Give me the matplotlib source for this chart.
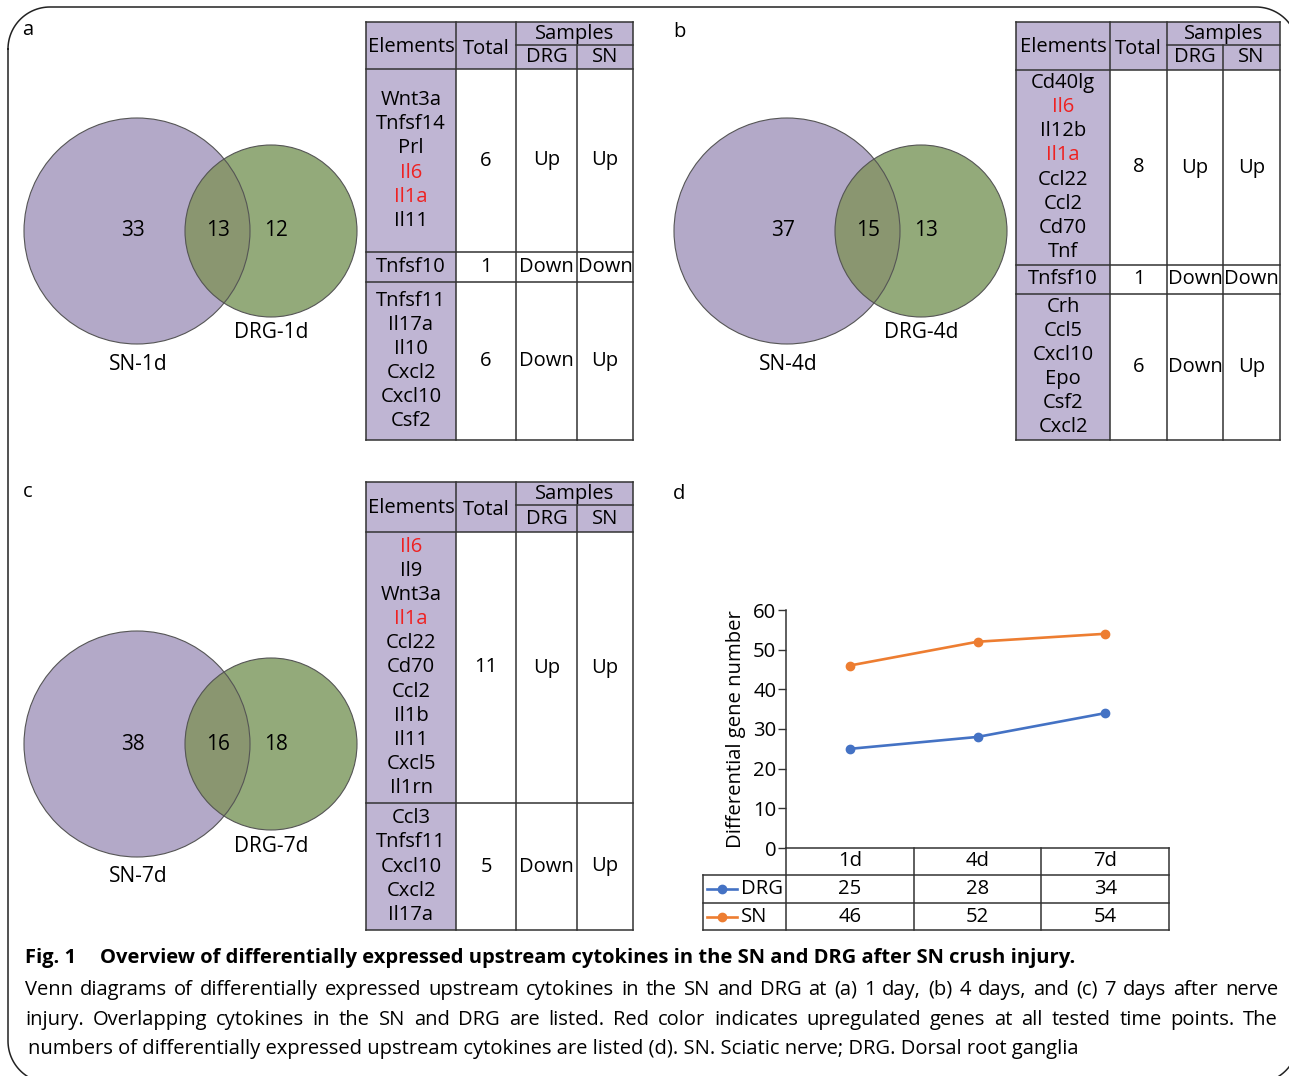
import numpy as np
import matplotlib.pyplot as plt
from matplotlib.patches import Circle, Rectangle
from matplotlib import transforms

plt.rcParams['font.family'] = ['Open Sans', 'DejaVu Sans']

W, H = 1289, 1076

# venn counts per time point
days = ['1d', '4d', '7d']
sn_only = [33, 37, 38]
shared = [13, 15, 16]
drg_only = [12, 13, 18]
sn_counts = [a + b for a, b in zip(sn_only, shared)]
drg_counts = [a + b for a, b in zip(drg_only, shared)]

red_genes = ['Il6', 'Il1a']

# overlapping cytokines: (genes, DRG, SN)
overlap_1d = [
    (['Wnt3a', 'Tnfsf14', 'Prl', 'Il6', 'Il1a', 'Il11'], 'Up', 'Up'),
    (['Tnfsf10'], 'Down', 'Down'),
    (['Tnfsf11', 'Il17a', 'Il10', 'Cxcl2', 'Cxcl10', 'Csf2'], 'Down', 'Up'),
]
overlap_4d = [
    (['Cd40lg', 'Il6', 'Il12b', 'Il1a', 'Ccl22', 'Ccl2', 'Cd70', 'Tnf'], 'Up', 'Up'),
    (['Tnfsf10'], 'Down', 'Down'),
    (['Crh', 'Ccl5', 'Cxcl10', 'Epo', 'Csf2', 'Cxcl2'], 'Down', 'Up'),
]
overlap_7d = [
    (['Il6', 'Il9', 'Wnt3a', 'Il1a', 'Ccl22', 'Cd70', 'Ccl2', 'Il1b', 'Il11',
      'Cxcl5', 'Il1rn'], 'Up', 'Up'),
    (['Ccl3', 'Tnfsf11', 'Cxcl10', 'Cxcl2', 'Il17a'], 'Down', 'Up'),
]

PURPLE = '#b3a9c8'
GREEN = '#93aa7a'
MIXED = '#8a9670'
LAVENDER = '#bfb5d3'
RED = '#ee2222'
BLUE = '#4472c4'
ORANGE = '#ed7d31'
LINE = '#333333'
FS = 14.5

fig = plt.figure(figsize=(W / 100, H / 100), dpi=100)
bg = fig.add_axes([0, 0, 1, 1])
bg.set_xlim(0, W)
bg.set_ylim(H, 0)
bg.axis('off')


def venn(cx, cy, i):
    big = Circle((cx, cy), 113, fc=PURPLE, ec='none')
    small = Circle((cx + 134, cy), 86, fc=GREEN, ec='none')
    both = Circle((cx + 134, cy), 86, fc=MIXED, ec='none')
    bg.add_patch(big)
    bg.add_patch(small)
    bg.add_patch(both)
    both.set_clip_path(big)
    for c in [(cx, cy, 113), (cx + 134, cy, 86)]:
        bg.add_patch(Circle(c[:2], c[2], fc='none', ec='#555555', lw=0.8))
    kw = dict(ha='center', va='center', fontsize=15)
    bg.text(cx - 4, cy, str(sn_only[i]), **kw)
    bg.text(cx + 81, cy, str(shared[i]), **kw)
    bg.text(cx + 139, cy, str(drg_only[i]), **kw)
    bg.text(cx + 1, cy + 133, 'SN-' + days[i], **kw)
    bg.text(cx + 134, cy + 102, 'DRG-' + days[i], **kw)


def hline(y, x0, x1):
    bg.plot([x0, x1], [y, y], color=LINE, lw=1.1, solid_capstyle='projecting')


def vline(x, y0, y1):
    bg.plot([x, x], [y0, y1], color=LINE, lw=1.1, solid_capstyle='projecting')


def table(cols, rows, groups):
    top, mid, head = rows[:3]
    bottom = rows[-1]
    bg.add_patch(Rectangle((cols[0], top), cols[-1] - cols[0], head - top,
                           fc=LAVENDER, ec='none'))
    bg.add_patch(Rectangle((cols[0], head), cols[1] - cols[0], bottom - head,
                           fc=LAVENDER, ec='none'))
    for y in rows[:1] + rows[2:]:
        hline(y, cols[0], cols[-1])
    hline(mid, cols[2], cols[-1])
    for x in cols[:3] + cols[4:]:
        vline(x, top, bottom)
    vline(cols[3], mid, bottom)

    cx = [(a + b) / 2 for a, b in zip(cols[:-1], cols[1:])]
    kw = dict(ha='center', va='center', fontsize=FS)
    bg.text(cx[0], (top + head) / 2 + 1, 'Elements', **kw)
    bg.text(cx[1], (top + head) / 2 + 3, 'Total', **kw)
    bg.text((cols[2] + cols[4]) / 2, (top + mid) / 2, 'Samples', **kw)
    bg.text(cx[2], (mid + head) / 2, 'DRG', **kw)
    bg.text(cx[3], (mid + head) / 2, 'SN', **kw)

    for (genes, drg, sn), y0, y1 in zip(groups, rows[2:-1], rows[3:]):
        yc = (y0 + y1) / 2
        n = len(genes)
        for k, g in enumerate(genes):
            bg.text(cx[0], yc + (k - (n - 1) / 2) * 24.1, g,
                    color=RED if g in red_genes else 'black', **kw)
        bg.text(cx[1], yc, str(n), **kw)
        bg.text(cx[2], yc, drg, **kw)
        bg.text(cx[3], yc, sn, **kw)


venn(137, 231, 0)
venn(787, 231, 1)
venn(137, 744, 2)
table([366, 456, 516, 577, 633], [22, 45, 69, 252, 282, 440], overlap_1d)
table([1016, 1110, 1167, 1223, 1280], [22, 45, 70, 265, 294, 440], overlap_4d)
table([366, 456, 516, 577, 633], [482, 505, 532, 803, 930], overlap_7d)

for letter, x, y in [('a', 28, 30), ('b', 679, 32), ('c', 28, 492), ('d', 679, 494)]:
    bg.text(x, y, letter, ha='center', va='center', fontsize=14.5)

# panel d: line chart with a data table underneath
ax = fig.add_axes([786 / W, 1 - 848 / H, 383 / W, 238 / H])
ax.patch.set_alpha(0)
pos = range(len(days))
ax.plot(pos, drg_counts, color=BLUE, lw=1.9, marker='o', ms=6, clip_on=False)
ax.plot(pos, sn_counts, color=ORANGE, lw=1.9, marker='o', ms=6, clip_on=False)
ax.set_xlim(-0.5, 2.5)
ax.set_ylim(0, 60)
ax.set_yticks(range(0, 61, 10))
ax.set_xticks([])
ax.spines[['top', 'right']].set_visible(False)
for s in ['left', 'bottom']:
    ax.spines[s].set_color(LINE)
    ax.spines[s].set_linewidth(1.1)
ax.tick_params(axis='y', length=6, width=1, color=LINE, labelsize=14.6, pad=1)
ax.set_ylabel('Differential gene number', fontsize=14.6)
ax.yaxis.set_label_coords(-0.105, 0.5)

tr = transforms.blended_transform_factory(ax.transData, bg.transData)
for x in [-0.5, 0.5, 1.5, 2.5]:
    bg.plot([x, x], [848, 930], color=LINE, lw=1.1, transform=tr)
for y in [875, 903, 930]:
    hline(y, 703, 1169)
vline(703, 875, 930)
kw = dict(transform=tr, ha='center', va='center', fontsize=14.6)
for i, d in enumerate(days):
    bg.text(i, 861, d, **kw)
    bg.text(i, 889, str(drg_counts[i]), **kw)
    bg.text(i, 917, str(sn_counts[i]), **kw)
for name, y, c in [('DRG', 889, BLUE), ('SN', 917, ORANGE)]:
    bg.plot([707, 737], [y, y], color=c, lw=1.9)
    bg.plot([722], [y], marker='o', ms=6, color=c)
    bg.text(741, y, name, ha='left', va='center', fontsize=14.6)

# caption
renderer = fig.canvas.get_renderer()


def justify(line, x0, x1, y):
    words = [bg.text(0, y, w, ha='left', va='center', fontsize=FS) for w in line.split()]
    widths = [t.get_window_extent(renderer).width for t in words]
    gap = (x1 - x0 - sum(widths)) / (len(words) - 1)
    x = x0
    for t, w in zip(words, widths):
        t.set_x(x)
        x += w + gap


bg.text(25, 958, 'Fig. 1', ha='left', va='center', fontsize=FS, fontweight='bold')
bg.text(100, 958, 'Overview of differentially expressed upstream cytokines in the SN '
        'and DRG after SN crush injury.', ha='left', va='center', fontsize=FS,
        fontweight='bold')
justify('Venn diagrams of differentially expressed upstream cytokines in the SN and '
        'DRG at (a) 1 day, (b) 4 days, and (c) 7 days after nerve', 25, 1278, 990)
justify('injury. Overlapping cytokines in the SN and DRG are listed. Red color '
        'indicates upregulated genes at all tested time points. The', 25, 1278, 1020)
bg.text(28, 1049, 'numbers of differentially expressed upstream cytokines are listed (d). '
        'SN. Sciatic nerve; DRG. Dorsal root ganglia', ha='left', va='center', fontsize=FS)

# rounded frame around the whole figure
left, top, right, bottom, r = 8, 7, 1298, 1083, 42
t = np.linspace(0, np.pi / 2, 30)
fx = np.concatenate([left + r - r * np.cos(t), right - r + r * np.sin(t),
                     right - r + r * np.cos(t), left + r - r * np.sin(t), [left]])
fy = np.concatenate([top + r - r * np.sin(t), top + r - r * np.cos(t),
                     bottom - r + r * np.sin(t), bottom - r + r * np.cos(t), [top + r]])
bg.plot(fx, fy, color='#222222', lw=1.1)

fig.savefig('out.png', dpi=100)
